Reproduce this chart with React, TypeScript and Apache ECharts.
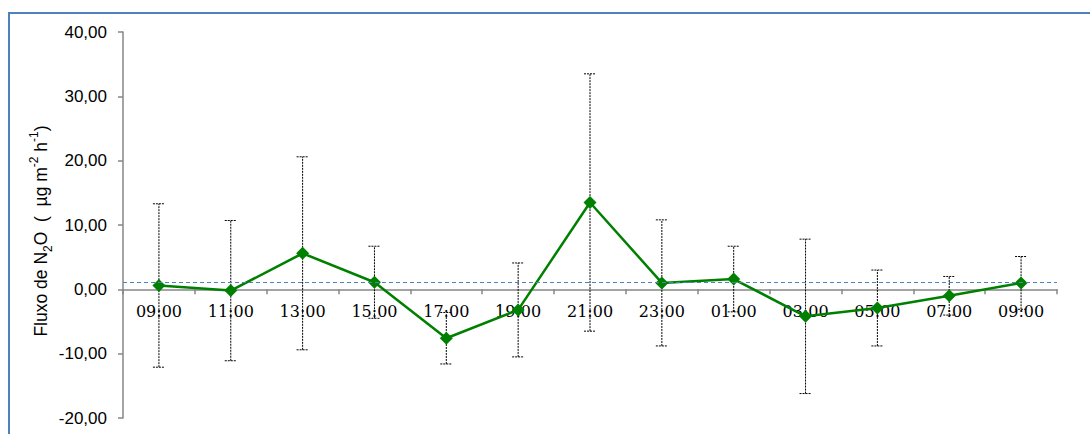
import React, { useEffect, useRef } from "react";
import * as echarts from "echarts";

const categories = ["09:00", "11:00", "13:00", "15:00", "17:00", "19:00", "21:00", "23:00", "01:00", "03:00", "05:00", "07:00", "09:00"];
const means = [0.6, -0.2, 5.6, 1.1, -7.6, -3.2, 13.5, 1.0, 1.6, -4.2, -2.9, -1.0, 1.0];
const errors = [12.7, 10.9, 15.0, 5.6, 4.0, 7.3, 20.0, 9.8, 5.1, 12.0, 5.9, 3.0, 4.1];
const referenceLevel = 1.04;
const yTicks = { min: -20, max: 40, interval: 10 };

const GRID = { left: 123, right: 33, top: 32, bottom: 16 };
const CH = 434;

export default function App() {
  const ref = useRef<HTMLDivElement>(null);
  useEffect(() => {
    if (!ref.current) return;
    const chart = echarts.init(ref.current, null, { renderer: "svg" });
    const errData = means.map((m, i) => [i, m - errors[i], m + errors[i]]);
    const gridH = CH - GRID.top - GRID.bottom;
    const zeroOffset = -gridH * (0 - yTicks.min) / (yTicks.max - yTicks.min);
    chart.setOption({
      animation: false,
      backgroundColor: "#ffffff",
      grid: { ...GRID, containLabel: false, outerBoundsMode: "none" },
      xAxis: {
        type: "category",
        data: categories,
        boundaryGap: true,
        offset: zeroOffset,
        axisLine: { onZero: false, lineStyle: { color: "#868686", width: 1.5 } },
        axisTick: { show: true, length: 5, inside: false, lineStyle: { color: "#868686", width: 1.5 } },
        axisLabel: { margin: 14, fontFamily: "DejaVu Serif", fontSize: 16, color: "#000000", interval: 0 },
        splitLine: { show: false },
      },
      yAxis: {
        type: "value",
        min: yTicks.min,
        max: yTicks.max,
        interval: yTicks.interval,
        axisLine: { show: true, lineStyle: { color: "#868686", width: 1.5 } },
        axisTick: { show: true, length: 5, lineStyle: { color: "#868686", width: 1.5 } },
        axisLabel: {
          margin: 16,
          fontFamily: "Liberation Sans",
          fontSize: 17,
          color: "#000000",
          formatter: (v: number) => v.toFixed(2).replace(".", ","),
        },
        splitLine: { show: false },
      },
      graphic: [
        {
          type: "rect",
          shape: { x: 9, y: 13, width: 1200, height: 600 },
          style: { fill: "none", stroke: "#4f81bd", lineWidth: 2 },
          silent: true,
          z: 100,
        },
        {
          type: "text",
          x: 41,
          y: 231,
          rotation: Math.PI / 2,
          style: {
            text: "{a|Fluxo de N}{sub|2}{a|O  (  µg m}{sup|-2}{a| h}{sup|-1}{a|)}",
            align: "center",
            verticalAlign: "middle",
            rich: {
              a: { fontFamily: "Liberation Sans", fontSize: 17.5, lineHeight: 26, fill: "#000" },
              sub: { fontFamily: "Liberation Sans", fontSize: 12, fill: "#000", verticalAlign: "bottom" },
              sup: { fontFamily: "Liberation Sans", fontSize: 12, fill: "#000", verticalAlign: "top" },
            },
          },
        },
      ],
      series: [
        {
          type: "custom",
          z: 2,
          data: errData,
          encode: { x: 0, y: [1, 2] },
          renderItem: (params: any, api: any) => {
            const idx = api.value(0);
            const lo = api.coord([idx, api.value(1)]);
            const hi = api.coord([idx, api.value(2)]);
            const half = 6;
            const style = { stroke: "#000000", lineWidth: 1, lineDash: [2, 1] };
            return {
              type: "group",
              children: [
                { type: "line", shape: { x1: lo[0], y1: lo[1], x2: hi[0], y2: hi[1] }, style },
                { type: "line", shape: { x1: hi[0] - half, y1: hi[1], x2: hi[0] + half, y2: hi[1] }, style },
                { type: "line", shape: { x1: lo[0] - half, y1: lo[1], x2: lo[0] + half, y2: lo[1] }, style },
              ],
            };
          },
        },
        {
          type: "line",
          z: 3,
          data: means,
          symbol: "diamond",
          symbolSize: 13,
          itemStyle: { color: "#008000" },
          lineStyle: { color: "#008000", width: 2.5 },
          markLine: {
            silent: true,
            symbol: ["none", "none"],
            label: { show: false },
            lineStyle: { color: "#4f81bd", type: [4, 3], width: 1 },
            data: [{ yAxis: referenceLevel }],
          },
        },
      ],
    });
    return () => chart.dispose();
  }, []);
  return (
    <div
      ref={ref}
      style={{ position: "fixed", left: 0, top: 0, width: 1090, height: 434 }}
    />
  );
}
